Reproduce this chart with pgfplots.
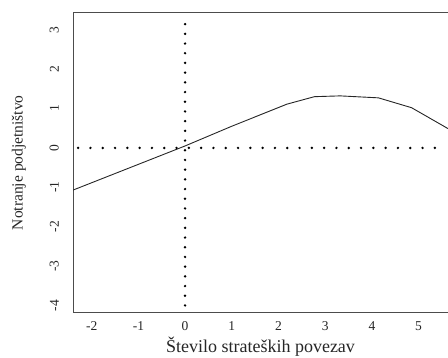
\documentclass[border=0pt]{standalone}
\usepackage{fontspec}
\setmainfont{Liberation Serif}
\usepackage{pgfplots}
\pgfplotsset{compat=1.18}
\begin{document}
\begin{tikzpicture}
\begin{axis}[
  scale only axis,
  width=375pt, height=300pt,
  xmin=-2.4, xmax=5.63,
  ymin=-4.18, ymax=3.43,
  separate axis lines,
  axis x line*=box,
  axis y line*=left,
  axis line style={draw=black!70, line width=0.9pt, -},
  xtick={-2,-1,0,1,2,3,4,5},
  ytick={-4,-3,-2,-1,0,1,2,3},
  major tick length=0pt,
  /pgf/number format/assume math mode=true,
  tick label style={font=\fontsize{13.5}{15}\selectfont, text=black!85},
  xticklabel style={anchor=north, inner sep=0pt},
  xticklabel shift=9pt,
  yticklabel style={rotate=90, anchor=south, inner sep=0pt},
  yticklabel shift=14pt,
  xlabel={Število strateških povezav},
  ylabel={Notranje podjetništvo},
  label style={text=black!85},
  xlabel style={font=\fontsize{18}{21}\selectfont, at={(axis description cs:0.5,-0.113)}, anchor=center},
  ylabel style={font=\fontsize{15.5}{18}\selectfont, at={(axis description cs:-0.144,0.5)}, anchor=center, rotate=0},
]
\addplot[black!85, line width=0.9pt] coordinates {
  (-2.4,-1.07) (0,0.05) (1,0.55) (2.18,1.11) (2.77,1.30) (3.32,1.32) (4.14,1.27) (4.85,1.02) (5.63,0.49)
};
\addplot[black, line width=2.7pt, line cap=round, dash pattern=on 0pt off 12.3pt] coordinates {
  (-2.29,0) (5.35,0)
};
\addplot[black, line width=2.7pt, line cap=round, dash pattern=on 0pt off 9.7pt] coordinates {
  (0,3.14) (0,-4.12)
};
\end{axis}
\pgfresetboundingbox
\path[use as bounding box] ([shift={(-73pt,-45pt)}]current axis.south west) rectangle ([shift={(0pt,12.7pt)}]current axis.north east);
\end{tikzpicture}
\end{document}
